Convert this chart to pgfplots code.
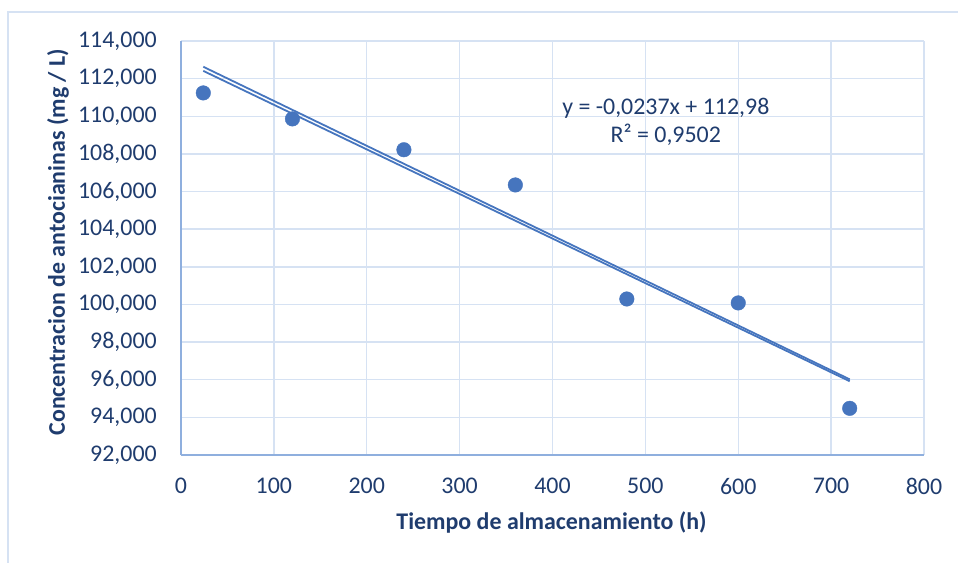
\documentclass[border=0pt]{standalone}
\usepackage{pgfplots}
\pgfplotsset{compat=1.18}
\usepackage{fontspec}
\setmainfont{Carlito}
\definecolor{txt}{RGB}{31,60,110}
\definecolor{dot}{RGB}{70,117,190}
\definecolor{grd}{RGB}{214,226,243}
\definecolor{axl}{RGB}{143,175,222}
\definecolor{frm}{RGB}{214,226,243}
\begin{document}
\begin{tikzpicture}[x=1bp,y=1bp]
\path[use as bounding box] (0,0) rectangle (958,563);
\draw[frm, line width=1.3bp] (8,-5) -- (8,551) -- (965,551);
\begin{axis}[
  at={(181bp,108bp)}, anchor=south west, scale only axis,
  width=743bp, height=414bp,
  xmin=0, xmax=800, ymin=92, ymax=114,
  xtick distance=100, ytick distance=2,
  grid=major, major grid style={grd, line width=1.4bp},
  axis x line*=bottom, axis y line*=left,
  axis line style={axl, line width=1.4bp, -},
  major tick length=0pt,
  /pgf/number format/assume math mode=true,
  tick label style={font=\fontsize{24}{24}\selectfont, text=txt, inner sep=0pt},
  yticklabel style={xshift=-24bp, /pgf/number format/.cd, fixed, fixed zerofill, precision=3, use comma, 1000 sep={}},
  xticklabel style={yshift=-23bp, /pgf/number format/.cd, 1000 sep={}},
  xlabel={\bfseries Tiempo de almacenamiento (h)},
  ylabel={\bfseries Concentracion de antocianinas (mg / L)},
  label style={font=\fontsize{24}{24}\selectfont, text=txt},
  xlabel style={at={(axis description cs:0.4987,-0.162)}, anchor=center},
  ylabel style={at={(axis description cs:-0.1655,0.514)}, anchor=center},
]
\addplot[dot, line width=1.8bp] coordinates {(24,112.41) (720,95.92)};
\addplot[dot, line width=1.8bp] coordinates {(24,112.63) (720,96.02)};
\addplot[only marks, mark=*, mark size=7.3bp, mark options={fill=dot, draw=dot}] coordinates {
(24,111.24) (120,109.86) (240,108.22) (360,106.35) (480,100.29) (600,100.08) (720,94.48)};
\node[align=center, text=txt, font=\fontsize{24}{29}\selectfont] at (axis cs:522,109.7) {y = -0,0237x + 112,98\\R² = 0,9502};
\end{axis}
\end{tikzpicture}
\end{document}
